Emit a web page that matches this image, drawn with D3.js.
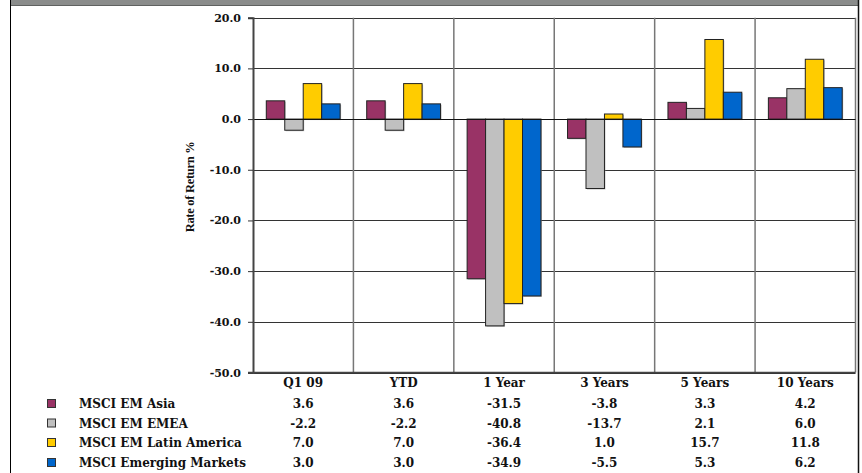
<!DOCTYPE html>
<html>
<head>
<meta charset="utf-8">
<script src="https://cdn.jsdelivr.net/npm/d3@7"></script>
<style>
  body { margin: 0; background: #fff; }
  text { font-family: "DejaVu Serif", serif; fill: #111; }
</style>
</head>
<body>
<div id="chart"></div>
<script>
// Data
const categories = ["Q1 09", "YTD", "1 Year", "3 Years", "5 Years", "10 Years"];
const seriesNames = ["MSCI EM Asia", "MSCI EM EMEA", "MSCI EM Latin America", "MSCI Emerging Markets"];
const asia = [3.6, 3.6, -31.5, -3.8, 3.3, 4.2];
const emea = [-2.2, -2.2, -40.8, -13.7, 2.1, 6.0];
const latam = [7.0, 7.0, -36.4, 1.0, 15.7, 11.8];
const emerging = [3.0, 3.0, -34.9, -5.5, 5.3, 6.2];
const yTicks = [20, 10, 0, -10, -20, -30, -40, -50];

const seriesValues = [asia, emea, latam, emerging];
const colors = ["#993366", "#c0c0c0", "#ffcc00", "#0066cc"];

const width = 862, height = 473;
const plot = { left: 253, right: 855.5, top: 17.7, bottom: 372.5 };

const svg = d3.select("#chart")
    .append("svg")
    .attr("width", width)
    .attr("height", height);

// frame
svg.append("rect")
    .attr("x", 11).attr("y", 0)
    .attr("width", 848).attr("height", 6)
    .attr("fill", "#8a8c8b");
svg.append("line")
    .attr("x1", 11).attr("x2", 859).attr("y1", 5.5).attr("y2", 5.5)
    .attr("stroke", "#5f6160");
svg.append("line")
    .attr("x1", 10.5).attr("x2", 10.5).attr("y1", 0).attr("y2", height)
    .attr("stroke", "#000");
svg.append("line")
    .attr("x1", 858.5).attr("x2", 858.5).attr("y1", 0).attr("y2", height)
    .attr("stroke", "#111").attr("stroke-width", 1.5);

// scales
const x = d3.scaleBand()
    .domain(categories)
    .range([plot.left, plot.right])
    .padding(0);

const xInner = d3.scaleBand()
    .domain(d3.range(seriesNames.length))
    .range([0, x.bandwidth()])
    .paddingInner(0)
    .paddingOuter(0.72);

const y = d3.scaleLinear()
    .domain([-50, 20])
    .range([plot.bottom, plot.top]);

// horizontal gridlines
svg.append("g")
    .selectAll("line")
    .data(yTicks)
    .join("line")
    .attr("x1", plot.left)
    .attr("x2", plot.right)
    .attr("y1", d => Math.round(y(d)) + 0.5)
    .attr("y2", d => Math.round(y(d)) + 0.5)
    .attr("stroke", "#333")
    .attr("stroke-width", 1);

// vertical category separators
svg.append("g")
    .selectAll("line")
    .data(categories.slice(1).concat(["end"]))
    .join("line")
    .attr("x1", d => d === "end" ? plot.right : x(d))
    .attr("x2", d => d === "end" ? plot.right : x(d))
    .attr("y1", plot.top)
    .attr("y2", plot.bottom)
    .attr("stroke", "#777")
    .attr("stroke-width", 1.5);

// bars
const barData = [];
seriesValues.forEach((vals, s) => {
    vals.forEach((v, c) => barData.push({ s, cat: categories[c], v }));
});

// soft shadow under each bar
svg.append("g")
    .selectAll("rect")
    .data(barData)
    .join("rect")
    .attr("x", d => x(d.cat) + xInner(d.s) + 1)
    .attr("width", xInner.bandwidth())
    .attr("y", d => y(Math.max(0, d.v)) + 1)
    .attr("height", d => Math.abs(y(d.v) - y(0)))
    .attr("fill", "#999")
    .attr("opacity", 0.6);

svg.append("g")
    .selectAll("rect")
    .data(barData)
    .join("rect")
    .attr("x", d => x(d.cat) + xInner(d.s))
    .attr("width", xInner.bandwidth())
    .attr("y", d => y(Math.max(0, d.v)))
    .attr("height", d => Math.abs(y(d.v) - y(0)))
    .attr("fill", d => colors[d.s])
    .attr("stroke", "#222")
    .attr("stroke-width", 1);

// zero line on top
svg.append("line")
    .attr("x1", plot.left).attr("x2", plot.right)
    .attr("y1", Math.round(y(0)) + 0.5).attr("y2", Math.round(y(0)) + 0.5)
    .attr("stroke", "#111");

// y axis
const yAxis = d3.axisLeft(y)
    .tickValues(yTicks)
    .tickFormat(d => d3.format(".1f")(d).replace("−", "-"))
    .tickSize(5)
    .tickPadding(7);

const gy = svg.append("g")
    .attr("transform", `translate(${plot.left},0)`)
    .call(yAxis);
gy.select(".domain").attr("stroke", "#444").attr("stroke-width", 2);
gy.selectAll(".tick line").attr("stroke", "#333");
gy.selectAll(".tick text")
    .style("font-family", "DejaVu Serif, serif")
    .style("font-size", "11px")
    .style("font-weight", "bold")
    .attr("fill", "#222");

// bottom axis line
svg.append("line")
    .attr("x1", plot.left - 5).attr("x2", plot.right)
    .attr("y1", plot.bottom).attr("y2", plot.bottom)
    .attr("stroke", "#444").attr("stroke-width", 1.5);

// y axis title
svg.append("text")
    .attr("transform", "translate(194,187) rotate(-90)")
    .attr("text-anchor", "middle")
    .style("font-family", "Liberation Serif, serif")
    .style("font-size", "12.5px")
    .style("font-weight", "bold")
    .style("letter-spacing", "-0.3px")
    .text("Rate of Return %");

// data table: category labels
const rowY = [383, 404, 423.5, 443, 463];

svg.append("g")
    .selectAll("text")
    .data(categories)
    .join("text")
    .attr("x", d => x(d) + x.bandwidth() / 2)
    .attr("y", rowY[0])
    .attr("dy", "0.35em")
    .attr("text-anchor", "middle")
    .style("font-size", "12px")
    .style("font-weight", "bold")
    .text(d => d);

// legend keys + names
const rows = svg.append("g")
    .selectAll("g")
    .data(seriesNames)
    .join("g");

rows.append("rect")
    .attr("x", 47.5)
    .attr("y", (d, i) => rowY[i + 1] - 4.5)
    .attr("width", 8)
    .attr("height", 8)
    .attr("fill", (d, i) => colors[i])
    .attr("stroke", "#333");

rows.append("text")
    .attr("x", 79)
    .attr("y", (d, i) => rowY[i + 1])
    .attr("dy", "0.35em")
    .style("font-size", "12px")
    .style("font-weight", "bold")
    .text(d => d);

// values
seriesValues.forEach((vals, s) => {
    svg.append("g")
        .selectAll("text")
        .data(vals)
        .join("text")
        .attr("x", (d, c) => x(categories[c]) + x.bandwidth() / 2)
        .attr("y", rowY[s + 1])
        .attr("dy", "0.35em")
        .attr("text-anchor", "middle")
        .style("font-size", "12px")
        .style("font-weight", "bold")
        .text(d => d3.format(".1f")(d).replace("−", "-"));
});
</script>
</body>
</html>
